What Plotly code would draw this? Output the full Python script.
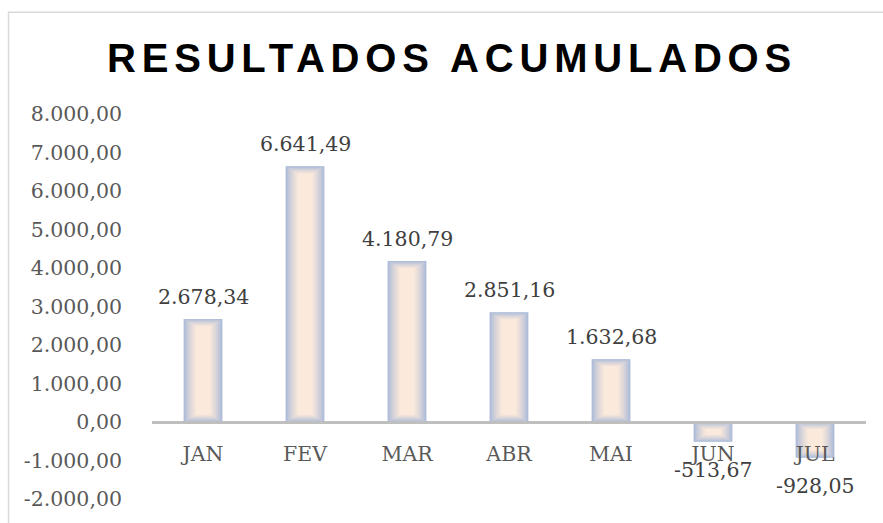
import plotly.graph_objects as go

# ---------------- data ----------------
months = ["JAN", "FEV", "MAR", "ABR", "MAI", "JUN", "JUL"]
values = [2678.34, 6641.49, 4180.79, 2851.16, 1632.68, -513.67, -928.05]
y_ticks = [-2000, -1000, 0, 1000, 2000, 3000, 4000, 5000, 6000, 7000, 8000]
title_text = "RESULTADOS ACUMULADOS"


def br(v):
    s = f"{abs(v):,.2f}".replace(",", "X").replace(".", ",").replace("X", ".")
    return ("-" if v < 0 else "") + s


# ---------------- geometry / style ----------------
W, H = 883, 523
M_L, M_R, M_T, M_B = 152, 17, 114, 23.5
PLOT_W = W - M_L - M_R
PLOT_H = H - M_T - M_B
Y_MIN, Y_MAX = -2000, 8000
UPP = (Y_MAX - Y_MIN) / PLOT_H          # data units per pixel
CAT_PX = PLOT_W / len(months)           # pixels per category
BAR_W = 0.38
EDGE = (155, 178, 216)
CENTER = (251, 233, 219)
N_LAYERS = 18
BAND_X_PX = 13.0
BAND_Y_PX = 8.0

SERIF = "DejaVu Serif"
FS = 20.5

fig = go.Figure()

for i in range(N_LAYERS):
    t = ((i + 1) / N_LAYERS) ** 0.7
    inset_x = i * BAND_X_PX / N_LAYERS
    inset_y = i * BAND_Y_PX / N_LAYERS
    col = tuple(round(EDGE[k] + (CENTER[k] - EDGE[k]) * t) for k in range(3))
    width = BAR_W - 2 * inset_x / CAT_PX
    ys, bases = [], []
    for v in values:
        lo = min(0, v) + inset_y * UPP
        hi = max(0, v) - inset_y * UPP
        if hi <= lo:
            ys.append(None)
            bases.append(None)
        else:
            ys.append(hi - lo)
            bases.append(lo)
    fig.add_trace(go.Bar(
        x=months, y=ys, base=bases, width=width,
        marker=dict(color=f"rgb{col}", line=dict(width=0)),
        hoverinfo="skip", showlegend=False,
    ))

annotations = []
for m, v in zip(months, values):
    annotations.append(dict(
        x=m, y=v, xref="x", yref="y", text=br(v), showarrow=False,
        yanchor="bottom" if v >= 0 else "top",
        yshift=8 if v >= 0 else -14,
        font=dict(family=SERIF, size=FS, color="#404040"),
    ))

fig.update_layout(
    width=W, height=H,
    margin=dict(l=M_L, r=M_R, t=M_T, b=M_B, pad=0),
    paper_bgcolor="white", plot_bgcolor="white",
    barmode="overlay",
    title=dict(
        text=f'<span style="letter-spacing:5.8px">{title_text}</span>',
        x=452 / W, xanchor="center", xref="container",
        y=1 - 57.5 / H, yanchor="middle", yref="container",
        font=dict(family="Liberation Sans", size=40, color="black", weight="bold"),
    ),
    xaxis=dict(
        type="category", range=[-0.5, len(months) - 0.5],
        anchor="free", position=(0 - Y_MIN) / (Y_MAX - Y_MIN),
        showline=True, linecolor="#BFBFBF", linewidth=3,
        ticks="", showgrid=False, zeroline=False,
        tickfont=dict(family=SERIF, size=FS, color="#595959"),
        ticklabelstandoff=12,
    ),
    yaxis=dict(
        range=[Y_MIN, Y_MAX], tickvals=y_ticks, ticktext=[br(v) for v in y_ticks],
        showgrid=False, zeroline=False, showline=False, ticks="",
        tickfont=dict(family=SERIF, size=FS, color="#595959"),
        ticklabelstandoff=29,
    ),
    annotations=annotations,
    shapes=[dict(
        type="rect", xref="paper", yref="paper",
        x0=(8.5 - M_L) / PLOT_W, x1=1.5,
        y0=-0.5, y1=(PLOT_H + M_T - 12) / PLOT_H,
        line=dict(color="#D9D9D9", width=1.5), fillcolor="rgba(0,0,0,0)",
        layer="below",
    )],
)

fig.write_html("out.html")
